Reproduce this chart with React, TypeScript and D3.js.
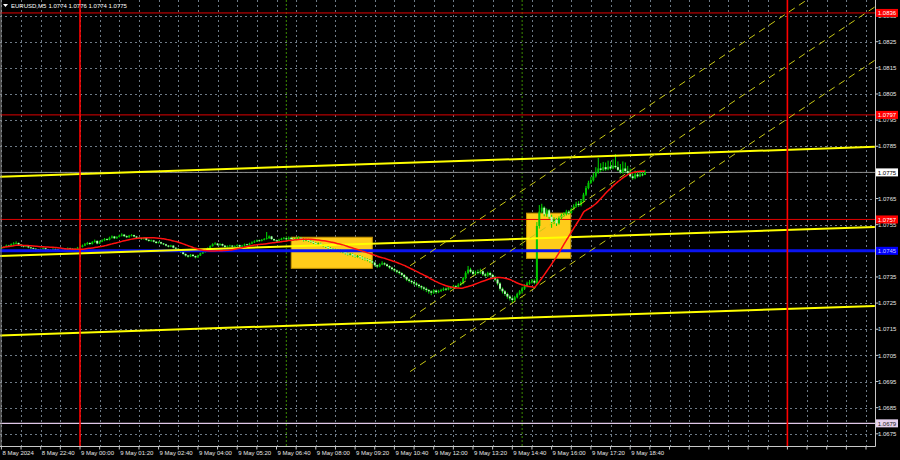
import React, { useEffect } from "react";
import * as d3 from "d3";

// ---------- DATA ----------
const SYMBOL = "EURUSD,M5";
const HEADER_OHLC = "1.0774 1.0776 1.0774 1.0775";
const BASE = 1.07; // prices stored as points (1e-5) above this base
const FIRST_BAR_MIN = -160; // minutes relative to 9 May 00:00
const BAR_MIN = 5;
const FIRST_OPEN = 460;

const closes = [
  462,465,470,468,475,478,480,474,470,466,
  468,463,460,458,455,452,456,460,455,450,
  453,457,455,451,448,452,456,460,458,455,
  458,462,465,470,475,480,476,483,488,478,
  485,490,495,492,500,505,498,503,508,512,
  506,502,508,510,505,500,498,495,500,492,
  488,490,485,480,483,478,475,470,466,470,
  462,458,455,445,438,432,428,435,430,425,
  432,440,445,452,460,468,475,478,472,476,
  470,465,468,470,466,468,472,466,470,475,
  472,478,482,486,490,488,492,495,498,505,
  495,490,488,492,496,498,494,500,495,492,
  497,500,495,490,493,488,485,480,475,478,
  472,468,465,460,458,455,450,452,448,445,
  440,436,438,432,428,430,425,420,418,415,
  410,405,395,390,398,402,398,392,386,380,
  375,370,365,358,350,340,335,330,325,320,
  315,310,305,300,295,290,298,292,296,300,
  305,302,310,308,315,312,320,325,345,365,
  378,370,362,368,365,372,360,355,365,358,
  350,340,325,305,295,285,275,268,262,272,
  285,295,305,315,325,330,335,328,545,600,
  615,590,605,580,560,570,555,575,585,590,
  600,595,610,620,630,625,640,665,690,710,
  720,735,750,765,760,770,762,772,765,775,
  770,760,750,765,755,748,735,728,742,735,
  742,740,750,
];
const highs = [
  466,468,474,473,478,483,486,482,476,472,
  471,470,465,463,460,457,459,463,462,457,
  456,460,459,457,453,455,459,463,462,460,
  461,465,515,474,480,484,483,487,493,490,
  489,494,499,498,504,509,507,506,512,517,
  514,509,511,514,512,507,503,500,503,502,
  494,493,492,487,486,485,480,477,472,473,
  472,464,460,457,447,440,434,438,437,432,
  435,443,448,455,463,471,479,483,480,479,
  478,472,471,473,472,471,475,474,473,478,
  477,481,486,490,493,493,495,499,522,509,
  507,497,493,496,500,503,501,505,503,498,
  502,506,503,498,497,496,491,488,483,482,
  481,475,471,468,464,461,458,456,455,451,
  448,443,442,440,435,434,433,428,424,421,
  418,414,408,398,402,410,406,401,395,389,
  384,378,374,368,361,353,344,339,334,330,
  324,318,314,310,304,299,303,302,301,305,
  310,309,314,315,320,319,326,332,350,372,
  392,385,376,374,378,382,376,366,370,370,
  362,354,344,330,310,300,290,281,274,278,
  290,300,312,322,332,338,342,340,560,625,
  630,620,612,610,588,578,575,582,592,598,
  607,606,615,628,638,640,648,672,698,718,
  733,748,770,805,785,790,788,795,792,800,
  820,792,782,792,788,775,765,752,758,755,
  756,752,760,
];
const lows = [
  457,460,463,465,466,473,476,471,467,463,
  464,460,456,455,452,449,450,454,452,447,
  448,451,452,448,445,446,450,454,455,452,
  453,456,458,463,468,473,472,474,481,475,
  476,483,487,489,490,497,495,496,501,505,
  503,499,500,505,502,497,495,492,493,489,
  485,485,482,477,478,475,472,467,463,464,
  459,455,451,442,435,428,424,426,427,421,
  423,430,438,443,450,458,466,473,469,470,
  467,462,463,466,463,464,466,463,464,468,
  469,470,476,480,484,485,486,490,493,496,
  492,487,484,486,490,494,490,492,491,488,
  490,494,491,486,487,484,481,476,471,472,
  468,464,461,456,454,451,446,447,444,441,
  436,432,433,428,424,424,421,416,413,410,
  405,400,390,384,387,395,394,388,381,375,
  370,364,360,353,344,334,329,324,318,314,
  308,302,298,292,286,280,285,286,288,292,
  296,297,299,303,305,307,309,316,322,340,
  360,365,357,356,360,361,354,349,350,352,
  343,333,318,298,287,278,267,260,250,256,
  268,280,290,300,310,320,325,322,322,535,
  595,582,580,572,538,552,545,550,570,580,
  585,588,592,605,615,618,620,636,660,685,
  705,715,730,745,752,755,756,758,760,762,
  765,755,745,745,750,742,730,722,724,730,
  732,735,740,
];
const MA_PERIOD = 20;

const priceTicks = [1.0675,1.0685,1.0695,1.0705,1.0715,1.0725,1.0735,1.0745,1.0755,1.0765,1.0775,1.0785,1.0795,1.0805,1.0815,1.0825,1.0835];
const timeLabels = ["8 May 2024","8 May 22:40","9 May 00:00","9 May 01:20","9 May 02:40","9 May 04:00","9 May 05:20","9 May 06:40","9 May 08:00","9 May 09:20","9 May 10:40","9 May 12:00","9 May 13:20","9 May 14:40","9 May 16:00","9 May 17:20","9 May 18:40"];
const TIME_LABEL_START = -160;
const TIME_LABEL_STEP = 80;
const GRID_STEP = 40;

const redLevels = [1.0836, 1.0797, 1.0757];
const blueLevel = 1.0745;
const lowLevel = 1.0679;
const bidPrice = 1.0775;
const dayLines = [0, 1440];
const sessionLines = [420, 900];
// trend lines: [t0, p0, t1, p1]
const trendLines = [
  [-163, 1.07733, 1618, 1.07848],
  [-163, 1.07430, 1618, 1.07541],
  [-163, 1.07126, 1618, 1.07239],
];
// equidistant channel: start time, end time, start prices, end prices
const channelT = [672, 1618];
const channelStart = [1.06988, 1.07192, 1.07393];
const channelEnd = [1.08179, 1.08383, 1.08584];
// zones: [t0, t1, pLow, pHigh]
const zones = [
  [430, 595, 1.07383, 1.07502],
  [909, 999, 1.07421, 1.07594],
];

// ---------- LAYOUT ----------
const W = 900, H = 460;
const PR = 875.5, PB = 446.5;
const FONT = "'Liberation Sans', Arial, sans-serif";

export default function App() {
  useEffect(() => {
    document.body.style.margin = "0";
    document.body.style.background = "#000";
  }, []);

  const x = d3.scaleLinear().domain([0, 1440]).range([80, 787.4]);
  const y = d3.scaleLinear().domain([1.0675, 1.0835]).range([433.8, 15.56]);
  const P = (v: number) => BASE + v / 100000;

  const bars = closes.map((c, i) => ({
    t: FIRST_BAR_MIN + i * BAR_MIN,
    o: i ? closes[i - 1] : FIRST_OPEN,
    h: highs[i],
    l: lows[i],
    c,
  }));
  const ma = closes.map((_, i) => d3.mean(closes.slice(Math.max(0, i - MA_PERIOD + 1), i + 1)) as number);
  const maPath = d3
    .line<number>()
    .x((_, i) => x(bars[i].t))
    .y((v) => y(P(v)))
    .curve(d3.curveMonotoneX)(ma) as string;

  const gridTimes = d3.range(TIME_LABEL_START, 1700, GRID_STEP).filter((t) => x(t) < PR);

  const label = (price: number, bg: string, fg: string, key: string) => (
    <g key={key}>
      <rect x={876} y={y(price) - 4} width={22} height={8} fill={bg} />
      <text x={887} y={y(price) + 2.2} fill={fg} fontSize={6} textAnchor="middle" fontFamily={FONT}>
        {price.toFixed(4)}
      </text>
    </g>
  );

  return (
    <svg width={W} height={H} style={{ position: "absolute", left: 0, top: 0, background: "#000" }}>
      <defs>
        <clipPath id="plot">
          <rect x={0} y={0} width={PR} height={PB} />
        </clipPath>
      </defs>
      <rect width={W} height={H} fill="#000" />
      <g clipPath="url(#plot)">
        {/* grid */}
        {priceTicks.map((p) => (
          <line key={"hg" + p} x1={0} x2={PR} y1={Math.round(y(p)) + 0.5} y2={Math.round(y(p)) + 0.5} stroke="#6e7a86" strokeDasharray="2,3" />
        ))}
        {gridTimes.map((t) => (
          <line key={"vg" + t} x1={Math.round(x(t)) + 0.5} x2={Math.round(x(t)) + 0.5} y1={0} y2={PB} stroke="#6e7a86" strokeDasharray="2,3" />
        ))}
        {/* zones */}
        {zones.map((z, i) => (
          <rect key={"z" + i} x={x(z[0])} y={y(z[3])} width={x(z[1]) - x(z[0])} height={y(z[2]) - y(z[3])} fill="#ffcc1a" stroke="#c89600" strokeWidth={1} />
        ))}
        {/* session lines */}
        {sessionLines.map((t) => (
          <line key={"s" + t} x1={x(t)} x2={x(t)} y1={0} y2={PB} stroke="#3c8c00" strokeDasharray="2,2" />
        ))}
        {/* levels */}
        <line x1={0} x2={PR} y1={y(lowLevel)} y2={y(lowLevel)} stroke="#e0c8e8" strokeWidth={1.2} />
        {redLevels.map((p) => (
          <line key={"r" + p} x1={0} x2={PR} y1={y(p)} y2={y(p)} stroke="#e00000" strokeWidth={1} />
        ))}
        <line x1={0} x2={PR} y1={y(bidPrice)} y2={y(bidPrice)} stroke="#8c8c8c" strokeWidth={1} />
        {/* candles */}
        {bars.map((b, i) => {
          const cx = x(b.t);
          const up = b.c >= b.o;
          const top = y(P(Math.max(b.o, b.c)));
          const bot = y(P(Math.min(b.o, b.c)));
          return (
            <g key={"b" + i}>
              <line x1={cx} x2={cx} y1={y(P(b.h))} y2={y(P(b.l))} stroke="#00dc00" strokeWidth={1} />
              <rect x={cx - 1} y={top} width={2} height={Math.max(0.8, bot - top)} fill={up ? "#00c800" : "#b4ffb4"} />
            </g>
          );
        })}
        {/* blue level */}
        <line x1={0} x2={PR} y1={y(blueLevel)} y2={y(blueLevel)} stroke="#0a14f0" strokeWidth={3} />
        {/* trend lines */}
        {trendLines.map((l, i) => (
          <line key={"tl" + i} x1={x(l[0])} y1={y(l[1])} x2={x(l[2])} y2={y(l[3])} stroke="#ffff00" strokeWidth={2} />
        ))}
        {channelStart.map((p, i) => (
          <line key={"ch" + i} x1={x(channelT[0])} y1={y(p)} x2={x(channelT[1])} y2={y(channelEnd[i])} stroke="#c8c814" strokeWidth={1} strokeDasharray="7,5" />
        ))}
        {/* day separators */}
        {dayLines.map((t) => (
          <line key={"d" + t} x1={x(t)} x2={x(t)} y1={0} y2={PB} stroke="#ff0000" strokeWidth={1.6} />
        ))}
        {/* MA */}
        <path d={maPath} fill="none" stroke="#ff1010" strokeWidth={1.5} />
      </g>
      {/* frame */}
      <line x1={1} x2={1} y1={0} y2={PB} stroke="#9a9a9a" />
      <line x1={PR} x2={PR} y1={0} y2={PB} stroke="#c8c8c8" />
      <line x1={0} x2={PR} y1={PB} y2={PB} stroke="#c8c8c8" />
      {/* price axis */}
      {priceTicks.map((p) => (
        <g key={"pt" + p}>
          <line x1={PR} x2={PR + 3} y1={y(p)} y2={y(p)} stroke="#c8c8c8" />
          <text x={878} y={y(p) + 2.2} fill="#e6e6e6" fontSize={6} fontFamily={FONT}>
            {p.toFixed(4)}
          </text>
        </g>
      ))}
      {redLevels.map((p) => label(p, "#ff0000", "#ffffff", "rl" + p))}
      {label(bidPrice, "#ffffff", "#000000", "bid")}
      {label(blueLevel, "#0000ff", "#c8c8ff", "bl")}
      {label(lowLevel, "#e6d2ee", "#202020", "ll")}
      {/* time axis */}
      {gridTimes.map((t) => (
        <line key={"tt" + t} x1={x(t)} x2={x(t)} y1={PB} y2={PB + 3} stroke="#c8c8c8" />
      ))}
      {timeLabels.map((s, i) => (
        <text key={"tx" + i} x={x(TIME_LABEL_START + i * TIME_LABEL_STEP) + 1} y={455} fill="#e6e6e6" fontSize={6} fontFamily={FONT}>
          {s}
        </text>
      ))}
      {/* header */}
      <polygon points="3,4 8,4 5.5,7" fill="#ffffff" />
      <text x={11} y={8} fill="#ffffff" fontSize={6} fontFamily={FONT}>
        {SYMBOL}
      </text>
      <text x={48.5} y={8} fill="#ffffff" fontSize={6} fontFamily={FONT}>
        {HEADER_OHLC}
      </text>
    </svg>
  );
}
